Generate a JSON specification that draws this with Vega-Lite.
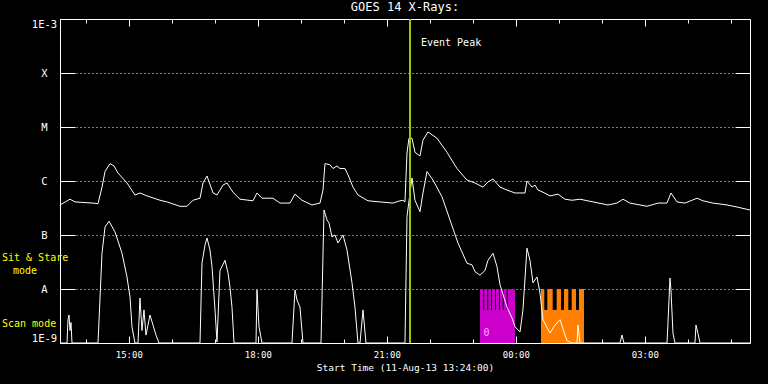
{
  "$schema": "https://vega.github.io/schema/vega-lite/v6.json",
  "autosize": {"type": "none"},
  "padding": {"left": 60, "top": 19, "right": 18, "bottom": 41},
  "width": 690,
  "height": 324,
  "background": "black",
  "title": {"text": "GOES 14 X-Rays:", "color": "white", "fontSize": 12, "fontWeight": "normal", "font": "DejaVu Sans Mono", "anchor": "middle", "offset": 4},
  "config": {
    "view": {"stroke": "white", "strokeWidth": 1},
    "axis": {"labelColor": "white", "tickColor": "white", "titleColor": "white", "labelFont": "DejaVu Sans Mono", "titleFont": "DejaVu Sans Mono", "labelFontSize": 9, "titleFontSize": 9.5, "titleFontWeight": "normal", "domain": false, "grid": false, "tickWidth": 1}
  },
  "datasets": {
    "long": [
      {"t": 13.4, "flux": 3.6e-7}, {"t": 13.633, "flux": 4.6e-7}, {"t": 13.749, "flux": 4.1e-7}, {"t": 14.167, "flux": 3.9e-7}, {"t": 14.284, "flux": 3.8e-7},
      {"t": 14.377, "flux": 7.7e-7}, {"t": 14.447, "flux": 1.5e-6}, {"t": 14.563, "flux": 2.1e-6}, {"t": 14.656, "flux": 1.9e-6}, {"t": 14.749, "flux": 1.4e-6},
      {"t": 14.958, "flux": 9.2e-7}, {"t": 15.144, "flux": 5.5e-7}, {"t": 15.26, "flux": 6.0e-7}, {"t": 15.423, "flux": 5.3e-7}, {"t": 15.726, "flux": 4.4e-7},
      {"t": 15.888, "flux": 4.1e-7}, {"t": 16.191, "flux": 3.4e-7}, {"t": 16.353, "flux": 3.4e-7}, {"t": 16.493, "flux": 4.4e-7}, {"t": 16.656, "flux": 4.8e-7},
      {"t": 16.726, "flux": 9.2e-7}, {"t": 16.819, "flux": 1.24e-6}, {"t": 16.958, "flux": 6.0e-7}, {"t": 17.051, "flux": 5.5e-7}, {"t": 17.191, "flux": 8.4e-7},
      {"t": 17.284, "flux": 9.2e-7}, {"t": 17.423, "flux": 6.2e-7}, {"t": 17.586, "flux": 4.6e-7}, {"t": 17.888, "flux": 4.3e-7}, {"t": 17.981, "flux": 6.0e-7},
      {"t": 18.098, "flux": 4.8e-7}, {"t": 18.353, "flux": 4.8e-7}, {"t": 18.516, "flux": 3.9e-7}, {"t": 18.749, "flux": 3.9e-7}, {"t": 18.865, "flux": 5.7e-7},
      {"t": 19.028, "flux": 4.4e-7}, {"t": 19.26, "flux": 3.6e-7}, {"t": 19.447, "flux": 3.9e-7}, {"t": 19.516, "flux": 6.8e-7}, {"t": 19.563, "flux": 2.1e-6},
      {"t": 19.679, "flux": 2.0e-6}, {"t": 19.749, "flux": 1.7e-6}, {"t": 19.842, "flux": 1.9e-6}, {"t": 19.912, "flux": 1.7e-6}, {"t": 20.028, "flux": 1.7e-6},
      {"t": 20.098, "flux": 1.3e-6}, {"t": 20.214, "flux": 7.7e-7}, {"t": 20.33, "flux": 5.5e-7}, {"t": 20.563, "flux": 4.3e-7}, {"t": 20.842, "flux": 4.1e-7},
      {"t": 21.144, "flux": 3.9e-7}, {"t": 21.307, "flux": 4.3e-7}, {"t": 21.377, "flux": 4.4e-7}, {"t": 21.423, "flux": 4.1e-7}, {"t": 21.47, "flux": 3.3e-6},
      {"t": 21.516, "flux": 6.2e-6}, {"t": 21.586, "flux": 6.2e-6}, {"t": 21.656, "flux": 3.4e-6}, {"t": 21.772, "flux": 2.9e-6}, {"t": 21.842, "flux": 5.7e-6},
      {"t": 21.958, "flux": 8.1e-6}, {"t": 22.167, "flux": 6.2e-6}, {"t": 22.4, "flux": 3.4e-6}, {"t": 22.633, "flux": 1.7e-6}, {"t": 22.865, "flux": 1.04e-6},
      {"t": 23.051, "flux": 9.2e-7}, {"t": 23.237, "flux": 7.7e-7}, {"t": 23.353, "flux": 9.6e-7}, {"t": 23.47, "flux": 1.09e-6}, {"t": 23.633, "flux": 7.7e-7},
      {"t": 23.795, "flux": 6.8e-7}, {"t": 23.981, "flux": 6.0e-7}, {"t": 24.214, "flux": 6.0e-7}, {"t": 24.26, "flux": 1.0e-6}, {"t": 24.377, "flux": 7.7e-7},
      {"t": 24.447, "flux": 8.4e-7}, {"t": 24.516, "flux": 6.8e-7}, {"t": 24.633, "flux": 6.2e-7}, {"t": 24.795, "flux": 5.3e-7}, {"t": 24.981, "flux": 5.7e-7},
      {"t": 25.144, "flux": 4.6e-7}, {"t": 25.307, "flux": 4.4e-7}, {"t": 25.493, "flux": 4.6e-7}, {"t": 25.795, "flux": 4.1e-7}, {"t": 26.144, "flux": 3.6e-7},
      {"t": 26.353, "flux": 3.9e-7}, {"t": 26.493, "flux": 4.6e-7}, {"t": 26.656, "flux": 3.9e-7}, {"t": 27.051, "flux": 3.4e-7}, {"t": 27.307, "flux": 3.9e-7},
      {"t": 27.516, "flux": 3.9e-7}, {"t": 27.609, "flux": 6.0e-7}, {"t": 27.749, "flux": 4.1e-7}, {"t": 27.935, "flux": 3.9e-7}, {"t": 28.214, "flux": 4.8e-7},
      {"t": 28.353, "flux": 4.3e-7}, {"t": 28.586, "flux": 3.9e-7}, {"t": 28.912, "flux": 3.6e-7}, {"t": 29.144, "flux": 3.3e-7}, {"t": 29.447, "flux": 2.9e-7}
    ],
    "short": [
      {"t": 13.4, "flux": 1e-9}, {"t": 13.563, "flux": 1e-9}, {"t": 13.586, "flux": 2.7e-9}, {"t": 13.609, "flux": 3.3e-9}, {"t": 13.633, "flux": 1.7e-9},
      {"t": 13.656, "flux": 2.4e-9}, {"t": 13.679, "flux": 1e-9}, {"t": 14.284, "flux": 1e-9}, {"t": 14.377, "flux": 4.6e-8}, {"t": 14.447, "flux": 1.4e-7},
      {"t": 14.54, "flux": 1.8e-7}, {"t": 14.679, "flux": 1.14e-7}, {"t": 14.842, "flux": 4.6e-8}, {"t": 14.958, "flux": 1.67e-8}, {"t": 15.028, "flux": 7.1e-9},
      {"t": 15.074, "flux": 2.0e-9}, {"t": 15.144, "flux": 1e-9}, {"t": 15.214, "flux": 1e-9}, {"t": 15.26, "flux": 6.8e-9}, {"t": 15.307, "flux": 1.7e-9},
      {"t": 15.353, "flux": 4.1e-9}, {"t": 15.4, "flux": 1.4e-9}, {"t": 15.447, "flux": 2.15e-9}, {"t": 15.493, "flux": 3.3e-9}, {"t": 15.563, "flux": 2.15e-9},
      {"t": 15.633, "flux": 1.4e-9}, {"t": 15.702, "flux": 1e-9}, {"t": 16.656, "flux": 1e-9}, {"t": 16.702, "flux": 3.0e-8}, {"t": 16.772, "flux": 6.5e-8},
      {"t": 16.819, "flux": 8.8e-8}, {"t": 16.888, "flux": 5.3e-8}, {"t": 16.935, "flux": 2.6e-8}, {"t": 17.005, "flux": 4.1e-9}, {"t": 17.051, "flux": 1.05e-9},
      {"t": 17.121, "flux": 2.2e-8}, {"t": 17.237, "flux": 3.4e-8}, {"t": 17.307, "flux": 2.0e-8}, {"t": 17.353, "flux": 1.09e-8}, {"t": 17.4, "flux": 4.6e-9},
      {"t": 17.447, "flux": 1e-9}, {"t": 17.958, "flux": 1e-9}, {"t": 17.981, "flux": 9.6e-9}, {"t": 18.028, "flux": 2.0e-9}, {"t": 18.098, "flux": 1e-9},
      {"t": 18.795, "flux": 1e-9}, {"t": 18.865, "flux": 9.6e-9}, {"t": 18.912, "flux": 6.25e-9}, {"t": 18.981, "flux": 4.6e-9}, {"t": 19.051, "flux": 1e-9},
      {"t": 19.47, "flux": 1e-9}, {"t": 19.54, "flux": 2.9e-7}, {"t": 19.609, "flux": 1.9e-7}, {"t": 19.656, "flux": 1.67e-7}, {"t": 19.726, "flux": 9.2e-8},
      {"t": 19.795, "flux": 1.0e-7}, {"t": 19.865, "flux": 7.1e-8}, {"t": 19.981, "flux": 1.0e-7}, {"t": 20.074, "flux": 5.3e-8}, {"t": 20.191, "flux": 1.3e-8},
      {"t": 20.26, "flux": 4.6e-9}, {"t": 20.33, "flux": 1e-9}, {"t": 20.377, "flux": 1e-9}, {"t": 20.447, "flux": 4.1e-9}, {"t": 20.516, "flux": 1e-9},
      {"t": 21.423, "flux": 1e-9}, {"t": 21.47, "flux": 2.2e-7}, {"t": 21.586, "flux": 1.14e-6}, {"t": 21.656, "flux": 4.4e-7}, {"t": 21.772, "flux": 2.7e-7},
      {"t": 21.842, "flux": 6.0e-7}, {"t": 21.935, "flux": 1.5e-6}, {"t": 22.074, "flux": 1.04e-6}, {"t": 22.284, "flux": 5.1e-7}, {"t": 22.47, "flux": 1.9e-7},
      {"t": 22.656, "flux": 7.1e-8}, {"t": 22.865, "flux": 3.0e-8}, {"t": 22.981, "flux": 2.8e-8}, {"t": 23.051, "flux": 2.1e-8}, {"t": 23.167, "flux": 1.8e-8},
      {"t": 23.284, "flux": 2.2e-8}, {"t": 23.353, "flux": 3.4e-8}, {"t": 23.47, "flux": 4.6e-8}, {"t": 23.563, "flux": 2.6e-8}, {"t": 23.633, "flux": 1.2e-8},
      {"t": 23.795, "flux": 4.6e-9}, {"t": 23.912, "flux": 2.9e-9}, {"t": 23.981, "flux": 2.0e-9}, {"t": 24.098, "flux": 1.6e-9}, {"t": 24.167, "flux": 4.1e-9},
      {"t": 24.26, "flux": 5.7e-8}, {"t": 24.33, "flux": 3.4e-8}, {"t": 24.4, "flux": 1.3e-8}, {"t": 24.493, "flux": 1.67e-8}, {"t": 24.563, "flux": 8.4e-9},
      {"t": 24.633, "flux": 2.7e-9}, {"t": 24.795, "flux": 1.53e-9}, {"t": 24.912, "flux": 2.15e-9}, {"t": 25.028, "flux": 2.7e-9}, {"t": 25.191, "flux": 1.1e-9},
      {"t": 25.307, "flux": 1e-9}, {"t": 25.424, "flux": 1e-9}, {"t": 25.447, "flux": 2.15e-9}, {"t": 25.493, "flux": 1e-9}, {"t": 26.423, "flux": 1e-9},
      {"t": 26.47, "flux": 1.4e-9}, {"t": 26.516, "flux": 1e-9}, {"t": 27.516, "flux": 1e-9}, {"t": 27.539, "flux": 2.3e-9}, {"t": 27.586, "flux": 1.6e-8},
      {"t": 27.609, "flux": 9.6e-9}, {"t": 27.656, "flux": 1.5e-9}, {"t": 27.702, "flux": 1e-9}, {"t": 28.167, "flux": 1e-9}, {"t": 28.191, "flux": 2.15e-9},
      {"t": 28.237, "flux": 1.5e-9}, {"t": 28.284, "flux": 1e-9}, {"t": 29.447, "flux": 1e-9}
    ],
    "modes": [
      {"t": 23.167, "t2": 23.981, "lo": 1e-9, "hi": 1e-8, "mode": "magenta"},
      {"t": 24.586, "t2": 25.586, "lo": 1e-9, "hi": 1e-8, "mode": "orange"}
    ],
    "gaps": [
      {"t": 23.243, "t2": 23.266, "lo": 4.1e-9, "hi": 1e-8},
      {"t": 23.337, "t2": 23.36, "lo": 4.1e-9, "hi": 1e-8},
      {"t": 23.423, "t2": 23.446, "lo": 4.1e-9, "hi": 1e-8},
      {"t": 23.516, "t2": 23.539, "lo": 4.1e-9, "hi": 1e-8},
      {"t": 23.609, "t2": 23.632, "lo": 4.1e-9, "hi": 1e-8},
      {"t": 23.695, "t2": 23.718, "lo": 4.1e-9, "hi": 1e-8},
      {"t": 23.788, "t2": 23.811, "lo": 4.1e-9, "hi": 1e-8},
      {"t": 24.663, "t2": 24.733, "lo": 4.1e-9, "hi": 1e-8},
      {"t": 24.858, "t2": 24.951, "lo": 4.1e-9, "hi": 1e-8},
      {"t": 25.051, "t2": 25.121, "lo": 4.1e-9, "hi": 1e-8},
      {"t": 25.221, "t2": 25.3, "lo": 4.1e-9, "hi": 1e-8},
      {"t": 25.4, "t2": 25.47, "lo": 4.1e-9, "hi": 1e-8}
    ],
    "labels": [
      {"t": 21.795, "flux": 3.6e-4, "text": "Event Peak", "color": "white"},
      {"t": 12.051, "flux": 3.75e-8, "text": "Sit & Stare", "color": "#ffff00"},
      {"t": 12.307, "flux": 2.15e-8, "text": "mode", "color": "#ffff00"},
      {"t": 12.051, "flux": 2.25e-9, "text": "Scan mode", "color": "#ffff00"},
      {"t": 23.25, "flux": 1.56e-9, "text": "0", "color": "#ffaaff"}
    ],
    "peak": [{"t": 21.54}]
  },
  "layer": [
    {
      "data": {"name": "modes"},
      "mark": {"type": "rect"},
      "encoding": {
        "x": {"field": "t", "type": "quantitative", "scale": {"domain": [13.4, 29.447], "nice": false, "zero": false},
          "axis": {"orient": "bottom", "values": [15, 18, 21, 24, 27], "tickSize": -7, "labelPadding": 14, "labelExpr": "(datum.value % 24 < 10 ? '0' : '') + (datum.value % 24) + ':00'", "title": "Start Time (11-Aug-13 13:24:00)", "titlePadding": 3, "labelFlush": false}},
        "x2": {"field": "t2"},
        "y": {"field": "lo", "type": "quantitative", "scale": {"type": "log", "domain": [1e-9, 1e-3], "nice": false},
          "axis": {"orient": "left", "values": [1e-9, 1e-8, 1e-7, 1e-6, 1e-5, 1e-4, 1e-3], "tickSize": -15, "labelPadding": 31, "labelAlign": "center", "labelFlush": true, "labelFontSize": 10.5,
            "labelExpr": "round(log(datum.value)/LN10) == -3 ? '1E-3' : round(log(datum.value)/LN10) == -4 ? 'X' : round(log(datum.value)/LN10) == -5 ? 'M' : round(log(datum.value)/LN10) == -6 ? 'C' : round(log(datum.value)/LN10) == -7 ? 'B' : round(log(datum.value)/LN10) == -8 ? 'A' : '1E-9'",
            "title": null, "grid": true, "gridColor": "white", "gridDash": [1, 3], "gridOpacity": 1, "gridWidth": 1}},
        "y2": {"field": "hi"},
        "color": {"field": "mode", "type": "nominal", "scale": {"domain": ["magenta", "orange"], "range": ["#cc00cc", "#ff8000"]}, "legend": null}
      }
    },
    {
      "data": {"name": "gaps"},
      "mark": {"type": "rect", "color": "black"},
      "encoding": {
        "x": {"field": "t", "type": "quantitative", "axis": {"orient": "bottom", "values": [14, 15, 16, 17, 18, 19, 20, 21, 22, 23, 24, 25, 26, 27, 28, 29], "tickSize": -4, "labels": false, "title": null}},
        "x2": {"field": "t2"},
        "y": {"field": "lo", "type": "quantitative", "axis": {"orient": "right", "values": [1e-8, 1e-7, 1e-6, 1e-5, 1e-4], "tickSize": -15, "labels": false, "title": null}},
        "y2": {"field": "hi"}
      }
    },
    {
      "data": {"name": "long"},
      "mark": {"type": "line", "color": "white", "strokeWidth": 1, "clip": true},
      "encoding": {
        "x": {"field": "t", "type": "quantitative", "axis": {"orient": "top", "values": [15, 18, 21, 24, 27], "tickSize": -7, "labels": false, "title": null}},
        "y": {"field": "flux", "type": "quantitative", "axis": null}
      }
    },
    {
      "data": {"name": "short"},
      "mark": {"type": "line", "color": "white", "strokeWidth": 1, "clip": true},
      "encoding": {
        "x": {"field": "t", "type": "quantitative", "axis": {"orient": "top", "values": [14, 15, 16, 17, 18, 19, 20, 21, 22, 23, 24, 25, 26, 27, 28, 29], "tickSize": -4, "labels": false, "title": null}},
        "y": {"field": "flux", "type": "quantitative", "axis": null}
      }
    },
    {
      "data": {"name": "peak"},
      "mark": {"type": "rule", "color": "#99cc00", "strokeWidth": 2},
      "encoding": {
        "x": {"field": "t", "type": "quantitative", "axis": null}
      }
    },
    {
      "data": {"name": "labels"},
      "mark": {"type": "text", "align": "left", "baseline": "middle", "font": "DejaVu Sans Mono", "fontSize": 10},
      "encoding": {
        "x": {"field": "t", "type": "quantitative", "axis": null},
        "y": {"field": "flux", "type": "quantitative", "axis": null},
        "text": {"field": "text"},
        "color": {"field": "color", "type": "nominal", "scale": null}
      }
    }
  ],
  "resolve": {"axis": {"x": "independent", "y": "independent"}}
}
